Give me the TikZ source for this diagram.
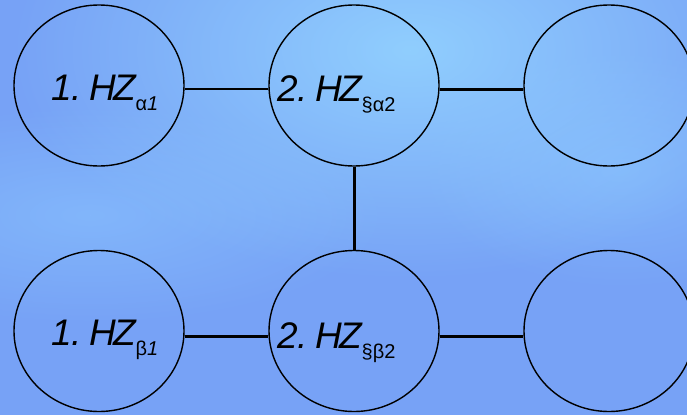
\documentclass[tikz,border=0pt]{standalone}
\usepackage{fontspec}
\setmainfont{Liberation Sans}
\usetikzlibrary{shapes.geometric,fadings}
\definecolor{bgbase}{RGB}{119,162,246}
\definecolor{bglight}{RGB}{144,206,254}
\definecolor{bgmid}{RGB}{130,182,251}
\tikzfading[name=softglow, inner color=transparent!0, outer color=transparent!100]
\newcommand{\subtxt}[1]{\raisebox{-10pt}{\fontsize{20}{20}\selectfont #1}}
\begin{document}
\begin{tikzpicture}[x=1pt,y=-1pt,
  hz/.style={ellipse,draw=black,line width=1.4pt,minimum width=170pt,minimum height=161pt,inner sep=0pt},
  hzlabel/.style={font=\fontsize{37}{37}\selectfont\itshape,inner sep=0pt,anchor=base west},
  link/.style={draw=black,line width=3pt},
  thinlink/.style={draw=black,line width=2pt},
  glow/.style={path fading=softglow}]
  % background
  \useasboundingbox (0,0) rectangle (687,415);
  \begin{scope}
    \clip (0,0) rectangle (687,415);
    \fill[bgbase] (0,0) rectangle (687,415);
    \fill[bgmid,glow] (90,215) ellipse (300pt and 110pt);
    \fill[bgmid,glow] (620,170) ellipse (200pt and 120pt);
    \fill[bglight,glow] (410,50) ellipse (400pt and 230pt);
  \end{scope}
  % circles
  \node[hz] (a1) at (99,85.5) {};
  \node[hz] (a2) at (354,85.5) {};
  \node[hz] (a3) at (609,85.5) {};
  \node[hz] (b1) at (99,331) {};
  \node[hz] (b2) at (354,331) {};
  \node[hz] (b3) at (609,331) {};
  % labels
  \node[hzlabel] (ta1) at (51,100) {1.\kern-3pt\ H\kern-3pt Z\subtxt{\upshape α\itshape 1}};
  \node[hzlabel] (ta2) at (277,101.5) {2.\kern-3pt\ H\kern-3pt Z\subtxt{\upshape §α2}};
  \node[hzlabel] (tb1) at (51,345.5) {1.\kern-3pt\ H\kern-3pt Z\subtxt{\upshape β\itshape 1}};
  \node[hzlabel] (tb2) at (277,348) {2.\kern-3pt\ H\kern-3pt Z\subtxt{\upshape §β2}};
  % connectors
  \draw[thinlink] ([yshift=-3.5pt]a1.east) -- ([yshift=-3.5pt]a2.west);
  \draw[link] ([yshift=-3.5pt]a2.east) -- ([yshift=-3.5pt]a3.west);
  \draw[link] (a2.south) -- (b2.north);
  \draw[link] ([yshift=-5pt]b1.east) -- ([yshift=-5pt]b2.west);
  \draw[link] ([yshift=-5pt]b2.east) -- ([yshift=-5pt]b3.west);
\end{tikzpicture}
\end{document}
